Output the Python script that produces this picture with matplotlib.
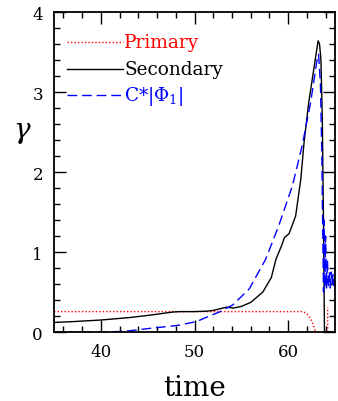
import matplotlib
matplotlib.use("Agg")
import matplotlib.pyplot as plt
import numpy as np
from matplotlib.ticker import MultipleLocator

# ---- data ----
t_primary = [35, 61.5, 61.9, 62.2, 62.45, 62.65, 62.8, 62.9, np.nan, 64.22, 64.22]
g_primary = [0.255, 0.255, 0.24, 0.2, 0.15, 0.1, 0.05, 0.0, np.nan, 0.0, 0.31]

t_secondary = [35, 37, 40, 43, 45.2, 47.7, 48.5, 50, 51.2, 52, 53.4, 54.2, 55.0,
               56.0, 57.3, 58.2, 58.7, 59.3, 59.6, 60.1, 60.8, 61.35, 61.7, 62.2,
               62.9, 63.2, 63.35, 63.5, 63.65, 63.78, 63.88, 64.0, 65]
g_secondary = [0.12, 0.13, 0.15, 0.18, 0.21, 0.25, 0.255, 0.255, 0.26, 0.27, 0.31,
               0.30, 0.32, 0.37, 0.50, 0.68, 0.91, 1.08, 1.18, 1.23, 1.45, 1.91,
               2.37, 2.87, 3.41, 3.64, 3.60, 3.41, 2.66, 1.3, 0.0, 0.0, 0.0]

t_phi = [35, 38, 41.7, 43, 45.2, 48.05, 50.2, 51.6, 52.66, 54.1, 55.85, 57.6,
         59.0, 60.46, 61.5, 62.4, 63.1, 63.25, 63.45, 63.6, 63.7, 63.78, 63.85,
         63.92, 64.0, 64.1, 64.2, 64.3, 64.4, 64.5, 64.6, 64.7, 64.8, 64.9, 65]
g_phi = [0.0, 0.0, 0.005, 0.015, 0.045, 0.08, 0.13, 0.2, 0.25, 0.34, 0.54, 0.91,
         1.33, 1.83, 2.33, 2.87, 3.41, 3.47, 3.1, 2.2, 1.2, 0.5, 1.4, 0.55, 1.2,
         0.55, 0.9, 0.55, 0.75, 0.55, 0.75, 0.6, 0.72, 0.58, 0.68]

legend_labels = ["Primary", "Secondary", r"C*|$\Phi_1$|"]
x_ticks = [40, 50, 60]
y_ticks = [0, 1, 2, 3, 4]

plt.rcParams["font.family"] = "DejaVu Serif"
plt.rcParams["mathtext.fontset"] = "dejavuserif"

fig = plt.figure(figsize=(3.38, 4.02), dpi=100)
ax = fig.add_axes([0.160, 0.1716, 0.831, 0.796])

red_dot = (0, (1, 1.5))
blue_dash = (7, 3.5)
ax.plot(t_primary, g_primary, color="red", lw=1.0, ls=red_dot)
ax.plot(t_secondary, g_secondary, color="black", lw=1.0)
ax.plot(t_phi, g_phi, color="blue", lw=1.0, dashes=blue_dash)

ax.set_xlim(35, 65)
ax.set_ylim(0, 4)
ax.set_xticks(x_ticks)
ax.set_yticks(y_ticks)
ax.xaxis.set_minor_locator(MultipleLocator(2))
ax.yaxis.set_minor_locator(MultipleLocator(0.2))
ax.tick_params(which="both", direction="in", top=True, right=True,
               labelsize=12, width=1.0)
ax.tick_params(which="major", length=8.6, pad=8)
ax.tick_params(which="minor", length=4.3)
for s in ax.spines.values():
    s.set_linewidth(1.3)

# manual legend, as in the original (line sample + coloured label)
styles = [dict(color="red", ls=red_dot),
          dict(color="black", ls="-"),
          dict(color="blue", dashes=blue_dash)]
colors = ["red", "black", "blue"]
for i, (lab, st) in enumerate(zip(legend_labels, styles)):
    y = 3.62 - 0.33 * i
    ax.plot([36.4, 42.4], [y, y], lw=1.0, **st)
    ax.text(42.5, y, lab, color=colors[i], fontsize=13.3, va="center", ha="left")

fig.text(22 / 338, 1 - 133 / 402, r"$\gamma$", fontsize=20, ha="center", va="center")
ax.set_xlabel("time", fontsize=20, labelpad=10)

fig.savefig("out.png", dpi=100)
